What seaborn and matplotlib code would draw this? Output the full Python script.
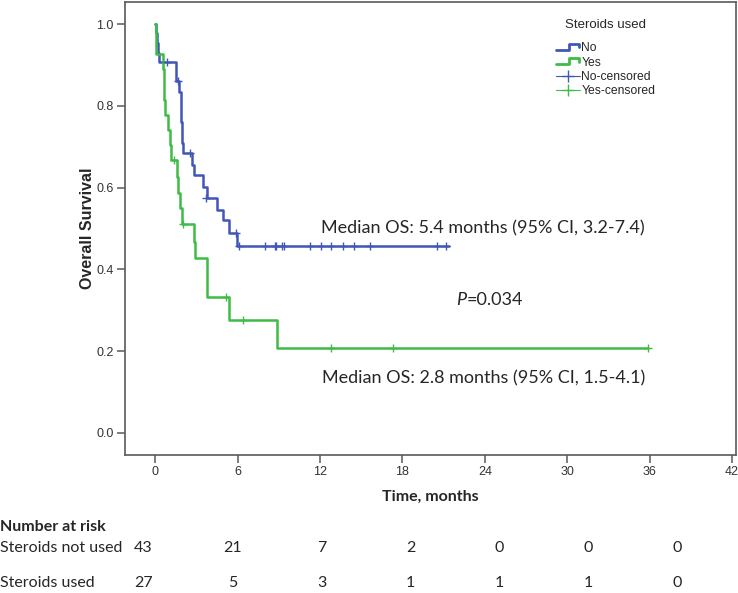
import numpy as np
import pandas as pd
import matplotlib
matplotlib.use("Agg")
import matplotlib.pyplot as plt
import seaborn as sns
from matplotlib.lines import Line2D
from matplotlib.legend_handler import HandlerBase

# ---------------- data ----------------
# Kaplan-Meier step curve, steroids NOT used (time in months, survival)
no_time = [0.0, 0.08, 0.15, 0.22, 0.30, 1.49, 1.75, 1.85, 1.90, 1.95, 2.00, 2.65, 2.80,
           3.45, 3.74, 4.50, 4.95, 5.35, 5.93, 21.40]
no_surv = [1.000, 0.977, 0.953, 0.930, 0.907, 0.860, 0.834, 0.810, 0.760, 0.710, 0.684, 0.655, 0.631,
           0.602, 0.574, 0.545, 0.521, 0.488, 0.457, 0.457]
no_cens_time = [0.83, 1.63, 2.50, 3.70, 5.85, 6.10, 8.00, 8.70, 8.80, 9.20, 9.40, 11.30, 12.10,
                12.80, 13.70, 14.50, 15.60, 20.50, 21.20]
no_cens_surv = [0.907, 0.860, 0.684, 0.574, 0.488, 0.457, 0.457, 0.457, 0.457, 0.457, 0.457, 0.457,
                0.457, 0.457, 0.457, 0.457, 0.457, 0.457, 0.457]

# Kaplan-Meier step curve, steroids used
yes_time = [0.0, 0.03, 0.08, 0.55, 0.60, 0.65, 0.70, 0.95, 1.07, 1.15, 1.58, 1.68, 1.80, 1.92,
            2.84, 2.88, 3.74, 3.79, 5.37, 8.84, 35.90]
yes_surv = [1.000, 0.963, 0.926, 0.889, 0.852, 0.815, 0.778, 0.741, 0.704, 0.667, 0.627, 0.588,
            0.549, 0.510, 0.468, 0.427, 0.380, 0.332, 0.277, 0.208, 0.208]
yes_cens_time = [1.36, 1.98, 5.15, 6.41, 12.80, 17.30, 35.90]
yes_cens_surv = [0.667, 0.510, 0.332, 0.277, 0.208, 0.208, 0.208]

x_ticks = [0, 6, 12, 18, 24, 30, 36, 42]
y_ticks = [0.0, 0.2, 0.4, 0.6, 0.8, 1.0]

risk_rows = ["Steroids not used", "Steroids used"]
risk_not_used = [43, 21, 7, 2, 0, 0, 0]
risk_used = [27, 5, 3, 1, 1, 1, 0]

median_no_text = "Median OS: 5.4 months (95% CI, 3.2-7.4)"
median_yes_text = "Median OS: 2.8 months (95% CI, 1.5-4.1)"
p_text = "=0.034"

# ---------------- style ----------------
sns.set_style("white")
plt.rcParams['font.family'] = ['Liberation Sans', 'DejaVu Sans']

BLUE = "#4157b7"
GREEN = "#3fbb47"
FRAME = "#5a5a5a"
CAL = ['Lato', 'DejaVu Sans']

W, H = 738, 593
fig = plt.figure(figsize=(W / 100, H / 100), dpi=100)
ax = fig.add_axes([125 / W, 1 - 455 / H, (736 - 125) / W, (455 - 2) / H])

df_no = pd.DataFrame({"t": no_time, "s": no_surv})
df_yes = pd.DataFrame({"t": yes_time, "s": yes_surv})
sns.lineplot(data=df_no, x="t", y="s", drawstyle="steps-post", color=BLUE, lw=1.8,
             estimator=None, ax=ax, legend=False)
sns.lineplot(data=df_yes, x="t", y="s", drawstyle="steps-post", color=GREEN, lw=1.8,
             estimator=None, ax=ax, legend=False)
sns.scatterplot(x=no_cens_time, y=no_cens_surv, marker="+", s=40, color=BLUE,
                linewidth=1.0, ax=ax, legend=False, zorder=3)
sns.scatterplot(x=yes_cens_time, y=yes_cens_surv, marker="+", s=40, color=GREEN,
                linewidth=1.0, ax=ax, legend=False, zorder=3)

ax.set_xlim(-2.21, 42.29)
ax.set_ylim(-0.054, 1.054)
ax.set_xticks(x_ticks)
ax.set_xticklabels([str(v) for v in x_ticks])
ax.set_yticks(y_ticks)
ax.set_yticklabels([f"{v:.1f}" for v in y_ticks])
ax.tick_params(axis="both", which="major", bottom=True, left=True, direction="out",
               length=6, width=1.1, color=FRAME, labelsize=9, labelcolor="#333333", pad=2)
for sp in ax.spines.values():
    sp.set_color(FRAME)
    sp.set_linewidth(1.2)
ax.set_xlabel("")
ax.set_ylabel("Overall Survival", fontsize=11.5, fontweight="bold", labelpad=1)

# annotations
ax.text(12.07, 0.501, median_no_text, fontsize=13, family=CAL, va="center", ha="left")
ax.text(12.14, 0.134, median_yes_text, fontsize=13, family=CAL, va="center", ha="left")
ptxt = ax.text(21.9, 0.325, "P", fontsize=13, family=CAL, style="italic", va="center", ha="left")
ax.annotate(p_text, xy=(1, 0.5), xycoords=ptxt, va="center", ha="left",
            fontsize=13, family=CAL)

# legend
class StepHandler(HandlerBase):
    def create_artists(self, legend, orig_handle, xdescent, ydescent, width, height,
                       fontsize, trans):
        x0, y0 = -xdescent, -ydescent
        xs = [x0, x0 + 0.55 * width, x0 + 0.55 * width, x0 + 0.95 * width, x0 + 0.95 * width]
        ys = [y0 + 0.15 * height, y0 + 0.15 * height, y0 + 0.85 * height,
              y0 + 0.85 * height, y0 + 0.45 * height]
        return [Line2D(xs, ys, color=orig_handle.get_color(), lw=2.0, transform=trans)]

h_no = Line2D([], [], color=BLUE)
h_yes = Line2D([], [], color=GREEN)
h_noc = Line2D([], [], color=BLUE, lw=0.8, marker="+", markersize=9, mew=1.0)
h_yesc = Line2D([], [], color=GREEN, lw=0.8, marker="+", markersize=9, mew=1.0)
leg = fig.legend([h_no, h_yes, h_noc, h_yesc], ["No", "Yes", "No-censored", "Yes-censored"],
                 title="Steroids used", loc="upper left",
                 bbox_to_anchor=(556 / W, 1 - 19 / H), frameon=False,
                 handler_map={h_no: StepHandler(), h_yes: StepHandler()},
                 prop={"family": "Liberation Sans", "size": 8.7},
                 title_fontproperties={"family": "Liberation Sans", "size": 9.5},
                 handlelength=2.0, handletextpad=0.1, labelspacing=0.2,
                 borderpad=0, borderaxespad=0)
leg._legend_box.sep = 8

# x-axis title and number-at-risk table
fig.text(430 / W, 1 - 497 / H, "Time, months", fontsize=11.5, fontweight="bold",
         family=CAL, ha="center", va="center")
fig.text(0, 1 - 527 / H, "Number at risk", fontsize=11.5, fontweight="bold",
         family=CAL, ha="left", va="center")
row_y = [548, 583]
for label, vals, yy in zip(risk_rows, [risk_not_used, risk_used], row_y):
    fig.text(0, 1 - yy / H, label, fontsize=11.5, family=CAL, ha="left", va="center")
    for i, v in enumerate(vals):
        fig.text((143.5 + i * 89.0) / W, 1 - yy / H, str(v), fontsize=11.5, family=CAL,
                 ha="center", va="center")

fig.savefig("out.png", dpi=100)
